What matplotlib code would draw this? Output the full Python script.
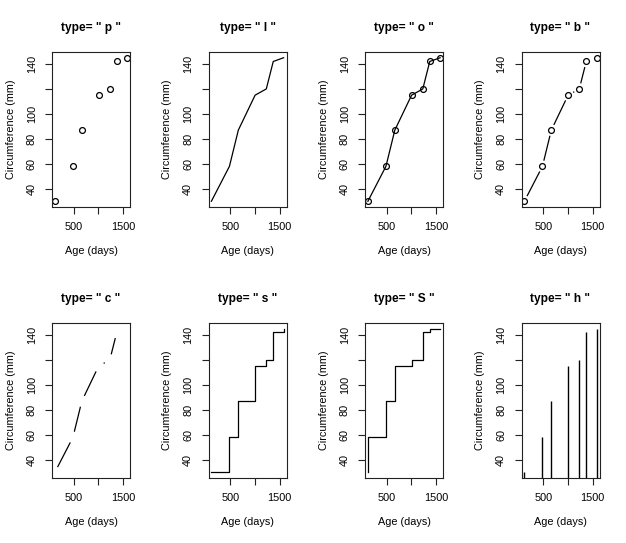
import numpy as np
import matplotlib
matplotlib.use("Agg")
import matplotlib.pyplot as plt

plt.rcParams["font.family"] = ["Liberation Sans", "DejaVu Sans"]

# Orange tree 1: age vs trunk circumference
age = [118, 484, 664, 1004, 1231, 1372, 1582]
circ = [30, 58, 87, 115, 120, 142, 145]

types = ["p", "l", "o", "b", "c", "s", "S", "h"]
x_ticks = [500, 1000, 1500]
x_tick_labels = ["500", "", "1500"]
y_ticks = [40, 60, 80, 100, 120, 140]
y_tick_labels = ["40", "60", "80", "100", "", "140"]

W, H = 626, 543
DPI = 100
GAP_PX = 6.4          # gap left around points for types "b" and "c"
FS = 7.8


def r_limits(v):
    lo, hi = min(v), max(v)
    d = (hi - lo) * 0.04
    return lo - d, hi + d


def gapped_segments(ax, xs, ys):
    pts = ax.transData.transform(np.column_stack([xs, ys]))
    inv = ax.transData.inverted()
    for a, b in zip(pts[:-1], pts[1:]):
        v = b - a
        L = np.hypot(*v)
        if L <= 2 * GAP_PX:
            continue
        u = v / L
        p0 = inv.transform(a + u * GAP_PX)
        p1 = inv.transform(b - u * GAP_PX)
        ax.plot([p0[0], p1[0]], [p0[1], p1[1]], color="black", lw=0.9)


fig = plt.figure(figsize=(W / DPI, H / DPI), dpi=DPI)

box_w, box_h = 78, 155
lefts = [52, 208.5, 365, 521.5]
tops = [52, 323]

for i, t in enumerate(types):
    row, col = divmod(i, 4)
    l = lefts[col]
    top = tops[row]
    ax = fig.add_axes([l / W, 1 - (top + box_h) / H, box_w / W, box_h / H])
    ax.set_xlim(*r_limits(age))
    ax.set_ylim(*r_limits(circ))

    mk = dict(marker="o", ms=4.2, mfc="none", mec="black", mew=0.9, ls="none")
    if t == "p":
        ax.plot(age, circ, **mk)
    elif t == "l":
        ax.plot(age, circ, color="black", lw=0.9)
    elif t == "o":
        ax.plot(age, circ, color="black", lw=0.9)
        ax.plot(age, circ, **mk)
    elif t == "b":
        gapped_segments(ax, age, circ)
        ax.plot(age, circ, **mk)
    elif t == "c":
        gapped_segments(ax, age, circ)
    elif t == "s":
        ax.plot(age, circ, color="black", lw=0.9, drawstyle="steps-post")
    elif t == "S":
        ax.plot(age, circ, color="black", lw=0.9, drawstyle="steps-pre")
    elif t == "h":
        ax.vlines(age, 0, circ, color="black", lw=1.0)

    ax.set_xticks(x_ticks)
    ax.set_xticklabels(x_tick_labels)
    ax.set_yticks(y_ticks)
    ax.set_yticklabels(y_tick_labels, rotation=90, va="center")
    ax.tick_params(direction="out", length=5, width=0.8, pad=6,
                   labelsize=FS, color="#222222")
    for s in ax.spines.values():
        s.set_linewidth(0.8)
        s.set_color("#222222")

    ax.set_xlabel("Age (days)", fontsize=FS, labelpad=10)
    ax.set_ylabel("Circumference (mm)", fontsize=FS, labelpad=8)
    ax.set_title('type= " %s "' % t, fontsize=8.6, fontweight="bold", pad=15)

fig.savefig("out.png", dpi=DPI, facecolor="white")
